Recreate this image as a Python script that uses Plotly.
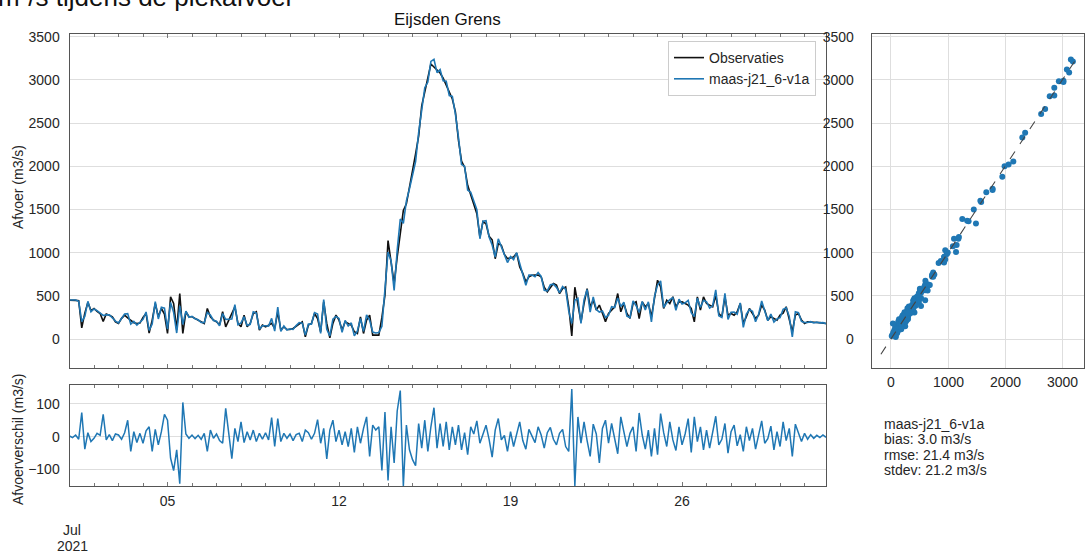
import plotly.graph_objects as go
import pandas as pd

# ---- data (3-hourly, starting 2021-07-01 00:00) ----
observaties = [
    450, 452, 448, 445, 130, 300, 425, 330,
    354, 320, 296, 205, 290, 275, 258, 200,
    181, 240, 277, 245, 219, 190, 181, 185,
    250, 296, 70, 220, 412, 258, 354, 290,
    65, 489, 412, 110, 527, 65, 316, 258,
    258, 240, 219, 200, 181, 354, 258, 220,
    200, 165, 316, 142, 219, 300, 373, 181,
    142, 277, 142, 181, 296, 316, 104, 162,
    142, 160, 181, 123, 316, 104, 142, 110,
    110, 123, 150, 181, 200, 26, 162, 181,
    296, 238, 85, 431, 181, 15, 181, 277,
    219, 104, 200, 181, 162, 85, 65, 258,
    65, 219, 277, 46, 50, 46, 250, 508,
    1140, 874, 643, 951, 1250, 1489, 1566, 1780,
    1950, 2143, 2350, 2700, 2860, 3020, 3185, 3150,
    3120, 3080, 3020, 2940, 2860, 2780, 2630, 2300,
    2060, 1990, 1780, 1670, 1580, 1451, 1181, 1360,
    1335, 1190, 1150, 930, 1105, 1085, 980, 931,
    940, 951, 995, 835, 760, 662, 720, 739,
    740, 740, 720, 600, 547, 600, 643, 624,
    527, 585, 604, 373, 35, 600, 412, 200,
    412, 585, 373, 450, 335, 393, 300, 200,
    296, 335, 373, 527, 316, 412, 296, 239,
    412, 431, 238, 431, 374, 412, 258, 470,
    681, 604, 354, 450, 412, 489, 374, 431,
    431, 412, 393, 354, 200, 489, 335, 489,
    412, 393, 374, 508, 296, 258, 489, 277,
    296, 277, 316, 412, 181, 258, 354, 296,
    238, 277, 393, 335, 219, 258, 238, 219,
    277, 300, 374, 238, 85, 277, 296, 219,
    181, 200, 195, 192, 192, 190, 185, 180,
]

# model minus observation (Afvoerverschil)
verschil = [
    2, -3, 5, -8, 73, -38, 12, -15,
    -5, 10, 4, 68, -10, 6, -12, 8,
    5, -8, 12, 50, -45, 15, -18, 10,
    -20, 18, 30, -45, 22, -25, 15, 68,
    50, -65, -103, -40, -143, 104, 8, -5,
    5, -6, 4, -8, 10, -45, 20, -5,
    8, -12, -20, 86, 10, -67, 25, -15,
    45, -18, 15, -10, 20, -15, 10, -8,
    12, -10, 58, -30, 55, -15, 10, -5,
    8, -12, 6, 10, -15, 20, 12, -8,
    10, 52, -20, 25, -68, 20, 50, -15,
    20, -25, 15, -30, 25, -48, 30, -20,
    25, 60, -60, 35, 20, 30, -103, 75,
    -133, 30, -80, 78, 140, -150, 35, -40,
    -70, -88, 40, -35, 50, -45, 30, 88,
    -35, 40, -30, 45, -40, 30, -25, 35,
    -40, 12, -55, 30, 8, 48, -20, 5,
    35, -8, -62, 20, 55, -10, 4, -45,
    15, -30, 6, 45, -12, -38, 22, 3,
    -18, 30, 5, -35, 12, 28, -8, -25,
    10, 22, -30, -45, 145, -150, 60, -20,
    45, -12, -60, 38, 8, -80, 25, 50,
    -20, 40, -8, -52, 60, 15, -30, 10,
    30, -45, 72, 5, -38, 20, -60, 25,
    -55, 70, 12, -30, 45, -10, -42, 30,
    -25, 8, 55, -48, 60, -15, 30, -40,
    20, -35, 10, 62, -25, -8, 40, -50,
    15, 35, -28, 6, -45, 30, -12, 25,
    -38, 10, 48, -20, -6, 32, -40, 15,
    -30, 45, -12, 25, -60, 38, 10, -15,
    10, -8, 6, -5, 4, -3, 5, -2,
]

model = [o + v for o, v in zip(observaties, verschil)]
tijd = pd.date_range("2021-07-01", periods=len(observaties), freq="3h")

x_ticks = ["2021-07-05", "2021-07-12", "2021-07-19", "2021-07-26"]
x_ticktext = ["05", "12", "19", "26"]
afvoer_ticks = [0, 500, 1000, 1500, 2000, 2500, 3000, 3500]
verschil_ticks = [-100, 0, 100]
scatter_xticks = [0, 1000, 2000, 3000]
diag = [-175, 3300]

stats_lines = ["maas-j21_6-v1a", "bias: 3.0 m3/s", "rmse: 21.4 m3/s", "stdev: 21.2 m3/s"]

# ---- layout helpers ----
W, H = 1088, 551
def fx(px):
    return px / W
def fy(py):
    return 1 - py / H

BLUE = "#1f77b4"
GRID = "#dedede"
SPINE = "#555555"
TXT = "#262626"
FONT = "Liberation Sans, Arial, sans-serif"

fig = go.Figure()
fig.add_trace(go.Scatter(x=tijd, y=observaties, mode="lines", name="Observaties",
                         line=dict(color="#111111", width=1.6), xaxis="x", yaxis="y"))
fig.add_trace(go.Scatter(x=tijd, y=model, mode="lines", name="maas-j21_6-v1a",
                         line=dict(color=BLUE, width=1.6), xaxis="x", yaxis="y"))
fig.add_trace(go.Scatter(x=tijd, y=verschil, mode="lines", showlegend=False,
                         line=dict(color=BLUE, width=1.5), xaxis="x2", yaxis="y2"))
fig.add_trace(go.Scatter(x=observaties, y=model, mode="markers", showlegend=False,
                         marker=dict(color=BLUE, size=6), xaxis="x3", yaxis="y3"))
fig.add_trace(go.Scatter(x=diag, y=diag, mode="lines", showlegend=False,
                         line=dict(color="#444444", width=1.1, dash="dash"), xaxis="x3", yaxis="y3"))

xrange = ["2021-07-01 00:00", "2021-07-31 21:00"]
common = dict(showline=True, linecolor=SPINE, linewidth=1,
              tickfont=dict(size=14, color=TXT, family=FONT), zeroline=False)
minor_days = dict(dtick=86400000, tick0="2021-07-01", ticks="inside", ticklen=3,
                  tickcolor="#777777", showgrid=False)

fig.update_layout(
    width=W, height=H, margin=dict(l=0, r=0, t=0, b=0, autoexpand=False),
    paper_bgcolor="white", plot_bgcolor="white",
    font=dict(family=FONT, size=14, color=TXT),
    xaxis=dict(domain=[fx(69.5), fx(826)], anchor="y", range=xrange, type="date",
               showticklabels=False, showgrid=False, tickvals=x_ticks, ticks="inside",
               ticklen=4, tickcolor="#777777", minor=minor_days, mirror="allticks", **common),
    yaxis=dict(domain=[fy(368), fy(34)], anchor="x", range=[-335, 3532],
               tickvals=afvoer_ticks, showgrid=True, gridcolor=GRID, ticks="",
               ticklabelstandoff=6, mirror=True, **common),
    xaxis2=dict(domain=[fx(69.5), fx(826)], anchor="y2", range=xrange, type="date",
                matches="x", tickvals=x_ticks, ticktext=x_ticktext, showgrid=False,
                ticks="inside", ticklen=4, tickcolor="#777777", minor=minor_days,
                ticklabelstandoff=2, mirror="allticks", **common),
    yaxis2=dict(domain=[fy(486), fy(385)], anchor="x2", range=[-150, 157],
                tickvals=verschil_ticks, showgrid=True, gridcolor=GRID, ticks="",
                ticklabelstandoff=6, mirror=True, **common),
    xaxis3=dict(domain=[fx(871.7), fx(1084)], anchor="y3", range=[-336, 3380],
                tickvals=scatter_xticks, showgrid=True, gridcolor=GRID, ticks="",
                showticklabels=False, mirror=True, **common),
    yaxis3=dict(domain=[fy(368), fy(34)], anchor="x3", range=[-335, 3532],
                tickvals=afvoer_ticks, showgrid=True, gridcolor=GRID, ticks="",
                ticklabelstandoff=14, mirror=True, **common),
    legend=dict(x=fx(668), y=fy(41), xanchor="left", yanchor="top",
                bgcolor="rgba(255,255,255,0.9)", bordercolor="#cccccc", borderwidth=1,
                font=dict(size=14, color=TXT), itemwidth=30, tracegroupgap=0),
)

ann = []
ann.append(dict(text="m³/s tijdens de piekafvoer", x=fx(-4), y=fy(14), xref="paper", yref="paper",
                xanchor="left", yanchor="bottom", showarrow=False,
                font=dict(size=26, color="#111111", family=FONT)))
ann.append(dict(text="Eijsden Grens", x=fx(447.5), y=fy(20), xref="paper", yref="paper",
                xanchor="center", yanchor="middle", showarrow=False,
                font=dict(size=17, color="#111111", family=FONT)))
ann.append(dict(text="Afvoer (m3/s)", x=fx(18), y=fy(187), xref="paper", yref="paper",
                xanchor="center", yanchor="middle", textangle=-90, showarrow=False,
                font=dict(size=14, color=TXT, family=FONT)))
ann.append(dict(text="Afvoerverschil (m3/s)", x=fx(18), y=fy(440), xref="paper", yref="paper",
                xanchor="center", yanchor="middle", textangle=-90, showarrow=False,
                font=dict(size=14, color=TXT, family=FONT)))
ann.append(dict(text="Jul", x=fx(72), y=fy(530), xref="paper", yref="paper",
                xanchor="center", yanchor="middle", showarrow=False,
                font=dict(size=14, color=TXT, family=FONT)))
ann.append(dict(text="2021", x=fx(72), y=fy(546), xref="paper", yref="paper",
                xanchor="center", yanchor="middle", showarrow=False,
                font=dict(size=14, color=TXT, family=FONT)))
# scatter x tick labels (drawn at the x3 data positions)
for v in scatter_xticks:
    ann.append(dict(text=str(v), x=v, y=fy(382), xref="x3", yref="paper",
                    xanchor="center", yanchor="middle", showarrow=False,
                    font=dict(size=14, color=TXT, family=FONT)))
for i, line in enumerate(stats_lines):
    ann.append(dict(text=line, x=fx(882), y=fy(424 + 15.3 * i), xref="paper", yref="paper",
                    xanchor="left", yanchor="middle", showarrow=False,
                    font=dict(size=14, color=TXT, family=FONT)))
fig.update_layout(annotations=ann)

fig.write_html("out.html", config={"displayModeBar": False},
               post_script="document.body.style.margin='0';document.body.style.overflow='hidden';")
